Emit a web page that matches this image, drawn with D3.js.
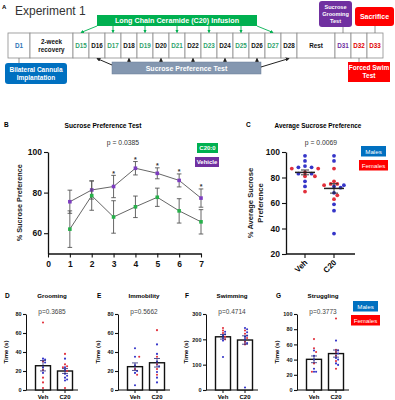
<!DOCTYPE html>
<html>
<head>
<meta charset="utf-8">
<script src="https://cdn.jsdelivr.net/npm/d3@7"></script>
<style>
body { margin: 0; background: #fff; }
svg { display: block; }
text { font-family: "Liberation Sans", Arial, sans-serif; }
</style>
</head>
<body>
<div id="fig"></div>
<script>
// ---- Panel A: timeline ----
const timelineLabels = ["D1", "2-week\nrecovery", "D15", "D16", "D17", "D18", "D19", "D20", "D21",
    "D22", "D23", "D24", "D25", "D26", "D27", "D28", "Rest", "D31", "D32", "D33"];
const infusionDays = ["D15", "D17", "D19", "D21", "D23", "D25", "D27"];
const sucroseDays = ["D16", "D18", "D20", "D22", "D24", "D26", "D28"];

// ---- Panel B: sucrose preference by day ----
const spTicks = [0, 1, 2, 3, 4, 5, 6, 7];
const spDays = [1, 2, 3, 4, 5, 6, 7];
const vehicleMean = [75.5, 81.3, 83, 92, 89.5, 86, 77.3];
const vehicleSem = [5.7, 4.5, 5.5, 3.3, 2.7, 3.2, 4.5];
const c20Mean = [62, 78.5, 68, 73, 77.7, 71, 65.6];
const c20Sem = [9, 7.2, 8, 5.3, 4.5, 6, 6];
const starDays = [3, 4, 5, 6, 7];

// ---- Panel C: average sucrose preference ----
const avgVehMales = [97, 93, 89, 88, 88, 83, 83, 77, 73];
const avgVehFemales = [87, 87, 84, 81, 81, 69];
const avgC20Males = [97, 93, 74, 73, 72, 68, 59, 54, 36];
const avgC20Females = [87, 77, 75, 75, 74, 66, 63];

// ---- Panels D-G: forced swim / grooming ----
const groomVehMales = [33, 32, 29, 24, 18];
const groomVehFemales = [71, 30, 21, 13, 8, 2];
const groomC20Males = [33, 24, 21, 17, 15, 13, 11, 10];
const groomC20Females = [38, 27, 25, 24, 20, 2];
const immobVehMales = [44, 35, 26, 20, 18, 5];
const immobVehFemales = [35, 22, 16];
const immobC20Males = [48, 38, 30, 25, 19, 13, 8];
const immobC20Females = [63, 35, 27, 22, 16];
const swimVehMales = [230, 220, 215, 205, 195, 130];
const swimVehFemales = [245, 235, 225, 210, 200];
const swimC20Males = [245, 240, 228, 215, 210, 200, 185, 10];
const swimC20Females = [235, 222, 205, 190, 180];
const struggleVehMales = [52, 45, 40, 28, 24, 24];
const struggleVehFemales = [67, 55, 50, 35, 24];
const struggleC20Males = [65, 52, 48, 42, 40, 35, 33];
const struggleC20Females = [94, 53, 50, 45, 38, 28];

const groups = ["Veh", "C20"];

const width = 395, height = 400;
const maleColor = "#3535c8", femaleColor = "#e2303c";

const svg = d3.select("#fig").append("svg")
    .attr("width", width)
    .attr("height", height)
    .attr("viewBox", [0, 0, width, height]);

// arrow markers
const defs = svg.append("defs");
function marker(id, color) {
    defs.append("marker")
        .attr("id", id)
        .attr("viewBox", "0 0 6 6")
        .attr("refX", 5).attr("refY", 3)
        .attr("markerWidth", 4).attr("markerHeight", 4)
        .attr("orient", "auto")
        .append("path").attr("d", "M0,0L6,3L0,6Z").attr("fill", color);
}
marker("arrG", "#00b050");
marker("arrK", "#222");

// ================= Panel A =================
const gA = svg.append("g");
gA.append("text").text("A").attr("x", 2).attr("y", 9)
    .attr("font-size", 6).attr("font-weight", 700);
gA.append("text").text("Experiment 1").attr("x", 15).attr("y", 15)
    .attr("font-family", "Lato").attr("font-size", 12).attr("fill", "#333");

const segWidth = l => l === "D1" ? 22 : l.startsWith("2-week") ? 43 : l === "Rest" ? 38 : 16;
let xCursor = 8;
const segs = timelineLabels.map(l => {
    const s = {label: l, x: xCursor, w: segWidth(l)};
    xCursor += s.w;
    return s;
});
const segMap = Object.fromEntries(segs.map(s => [s.label, s]));
const segCx = l => segMap[l].x + segMap[l].w / 2;
const labelColor = l => {
    if (l === "D1") return "#2e75b6";
    if (infusionDays.includes(l)) return "#2fa36b";
    if (l === "D31") return "#7030a0";
    if (l === "D32" || l === "D33") return "#e00000";
    return "#111";
};

const boxTop = 33, boxBot = 58;
const segG = gA.selectAll("g.seg").data(segs).join("g").attr("class", "seg");
segG.append("rect")
    .attr("x", d => d.x).attr("y", boxTop)
    .attr("width", d => d.w).attr("height", boxBot - boxTop)
    .attr("fill", "#fff").attr("stroke", "#8c8c8c").attr("stroke-width", 0.8);
segG.each(function (d) {
    const lines = d.label.split("\n");
    const t = d3.select(this).append("text")
        .attr("text-anchor", "middle")
        .attr("font-family", "Lato")
        .attr("font-weight", 700)
        .attr("font-size", 6.3)
        .attr("fill", labelColor(d.label));
    lines.forEach((ln, i) => {
        t.append("tspan")
            .attr("x", d.x + d.w / 2)
            .attr("y", (boxTop + boxBot) / 2 + 2.2 + (i - (lines.length - 1) / 2) * 8)
            .text(ln);
    });
});

// infusion banner
const banX0 = 97, banX1 = 257;
gA.append("rect").attr("x", banX0).attr("y", 15).attr("width", banX1 - banX0).attr("height", 11)
    .attr("fill", "#00b050");
gA.append("text").text("Long Chain Ceramide (C20) Infusion")
    .attr("x", (banX0 + banX1) / 2).attr("y", 23.2)
    .attr("text-anchor", "middle").attr("fill", "#fff")
    .attr("font-family", "Lato").attr("font-weight", 700).attr("font-size", 7.2);
infusionDays.forEach((d, i) => {
    let x1 = segCx(d);
    if (i === 0) x1 = banX0;
    if (i === infusionDays.length - 1) x1 = banX1;
    gA.append("line")
        .attr("x1", x1).attr("y1", 26).attr("x2", segCx(d)).attr("y2", boxTop - 0.5)
        .attr("stroke", "#00b050").attr("stroke-width", 0.9)
        .attr("marker-end", "url(#arrG)");
});

// sucrose test box
const sucX0 = 112, sucX1 = 261;
gA.append("rect").attr("x", sucX0).attr("y", 62).attr("width", sucX1 - sucX0).attr("height", 12)
    .attr("fill", "#8497b0").attr("stroke", "#6a7d96").attr("stroke-width", 0.5);
gA.append("text").text("Sucrose Preference Test")
    .attr("x", (sucX0 + sucX1) / 2).attr("y", 70.6)
    .attr("text-anchor", "middle").attr("fill", "#fff")
    .attr("font-family", "Lato").attr("font-weight", 700).attr("font-size", 7);
sucroseDays.forEach((d, i) => {
    let x1 = segCx(d), y1 = 62;
    if (i === 0) { x1 = sucX0; y1 = 65; }
    if (i === sucroseDays.length - 1) { x1 = sucX1; y1 = 67; }
    gA.append("line")
        .attr("x1", x1).attr("y1", y1).attr("x2", segCx(d)).attr("y2", boxBot + 0.5)
        .attr("stroke", "#222").attr("stroke-width", 1)
        .attr("marker-end", "url(#arrK)");
});

// side boxes
function labelBox(x, y, w, h, fill, lines, fs, rx, cx, anchorY, linkY) {
    gA.append("line").attr("x1", cx).attr("x2", cx).attr("y1", anchorY).attr("y2", linkY)
        .attr("stroke", "#777").attr("stroke-width", 0.8);
    gA.append("rect").attr("x", x).attr("y", y).attr("width", w).attr("height", h)
        .attr("rx", rx).attr("fill", fill);
    const t = gA.append("text").attr("text-anchor", "middle").attr("fill", "#fff")
        .attr("font-family", "Lato").attr("font-weight", 700).attr("font-size", fs);
    lines.forEach((ln, i) => {
        t.append("tspan").attr("x", x + w / 2)
            .attr("y", y + h / 2 + fs * 0.35 + (i - (lines.length - 1) / 2) * fs * 1.2)
            .text(ln);
    });
}
labelBox(5, 63, 62, 21, "#0070c0", ["Bilateral Cannula", "Implantation"], 6.5, 3, segCx("D1"), boxBot, 63);
labelBox(319, 1, 33, 26, "#7030a0", ["Sucrose", "Grooming", "Test"], 5.6, 3, segCx("D31"), 27, boxTop);
labelBox(355, 7, 39, 19, "#ff0000", ["Sacrifice"], 7, 3, segCx("D33"), 26, boxTop);
labelBox(348, 62, 42, 20, "#ff0000", ["Forced Swim", "Test"], 6.5, 0, segCx("D32"), boxBot, 62);

// ---------- helpers ----------
function styleAxis(g, fs) {
    g.select(".domain").attr("stroke", "#111").attr("stroke-width", 1.3);
    g.selectAll(".tick line").attr("stroke", "#111").attr("stroke-width", 1.1);
    g.selectAll(".tick text").attr("font-size", fs).attr("font-weight", 700)
        .attr("fill", "#111").attr("font-family", "Liberation Sans");
}

function errBar(g, x, yTop, yBot, cap, color, sw) {
    g.append("line").attr("x1", x).attr("x2", x).attr("y1", yTop).attr("y2", yBot)
        .attr("stroke", color).attr("stroke-width", sw);
    [yTop, yBot].forEach(yy => g.append("line")
        .attr("x1", x - cap).attr("x2", x + cap).attr("y1", yy).attr("y2", yy)
        .attr("stroke", color).attr("stroke-width", sw));
}

// simple beeswarm: returns [{x, y, color}]
function swarm(males, females, y, cx, r, step) {
    const pts = males.map(v => ({v, color: maleColor}))
        .concat(females.map(v => ({v, color: femaleColor})))
        .sort((a, b) => b.v - a.v);
    const placed = [];
    pts.forEach(p => {
        const py = y(p.v);
        for (let k = 0; k < 40; k++) {
            const off = k === 0 ? 0 : (k % 2 ? 1 : -1) * Math.ceil(k / 2) * step;
            const px = cx + off;
            if (placed.every(q => Math.hypot(q.x - px, q.y - py) >= 2 * r)) {
                placed.push({x: px, y: py, color: p.color});
                break;
            }
        }
    });
    return placed;
}

const sem = a => d3.deviation(a) / Math.sqrt(a.length);

// ================= Panel B =================
const gB = svg.append("g");
const xB = d3.scaleLinear().domain([0, 7]).range([48, 201]);
const yB = d3.scaleLinear().domain([50, 100]).range([253.5, 152]);

gB.append("text").text("B").attr("x", 4).attr("y", 127).attr("font-size", 6.5).attr("font-weight", 700);
gB.append("text").text("Sucrose Preference Test").attr("x", 103).attr("y", 127.5)
    .attr("text-anchor", "middle").attr("font-family", "Lato").attr("font-weight", 700).attr("font-size", 6.6);
gB.append("text").text("p = 0.0385").attr("x", 123).attr("y", 145)
    .attr("text-anchor", "middle").attr("font-family", "Lato").attr("font-size", 6.8).attr("fill", "#333");

gB.append("g").attr("transform", `translate(${xB(0)},0)`)
    .call(d3.axisLeft(yB).tickValues([60, 80, 100]).tickSize(4).tickSizeOuter(0).tickPadding(2))
    .call(g => styleAxis(g, 8.5));
gB.append("g").attr("transform", `translate(0,${yB(50)})`)
    .call(d3.axisBottom(xB).tickValues(spTicks).tickFormat(d3.format("d"))
        .tickSize(4).tickSizeOuter(0).tickPadding(3))
    .call(g => styleAxis(g, 8.5));
gB.append("text").text("% Sucrose Preference")
    .attr("transform", `translate(22,${(152 + 253.5) / 2}) rotate(-90)`)
    .attr("text-anchor", "middle").attr("font-size", 7.3).attr("font-weight", 700).attr("fill", "#222");

const lineB = d3.line().x((d, i) => xB(spDays[i])).y(d => yB(d));
[[vehicleMean, vehicleSem, "#7d3cc0"], [c20Mean, c20Sem, "#27b04a"]].forEach(([m, s, col]) => {
    m.forEach((v, i) => errBar(gB, xB(spDays[i]), yB(v + s[i]), yB(v - s[i]), 2.3, "#555", 0.9));
    gB.append("path").datum(m).attr("d", lineB).attr("fill", "none")
        .attr("stroke", "#555").attr("stroke-width", 0.9);
    gB.selectAll(null).data(m).join("rect")
        .attr("x", (d, i) => xB(spDays[i]) - 1.8).attr("y", d => yB(d) - 1.8)
        .attr("width", 3.6).attr("height", 3.6).attr("fill", col);
});
starDays.forEach(day => {
    const i = spDays.indexOf(day);
    gB.append("text").text("*").attr("x", xB(day)).attr("y", yB(vehicleMean[i] + vehicleSem[i]) + 0.5)
        .attr("text-anchor", "middle").attr("font-size", 7).attr("font-weight", 700).attr("fill", "#333");
});
// legend B
[["C20:0", "#00b050", 197, 143, 21], ["Vehicle", "#7030a0", 195, 157, 24]].forEach(([t, c, x, y, w]) => {
    gB.append("rect").attr("x", x).attr("y", y).attr("width", w).attr("height", 10).attr("fill", c);
    gB.append("text").text(t).attr("x", x + w / 2).attr("y", y + 7.3).attr("text-anchor", "middle")
        .attr("fill", "#fff").attr("font-family", "Lato").attr("font-weight", 700).attr("font-size", 6);
});

// ================= Panel C =================
const gC = svg.append("g");
const xC = d3.scalePoint().domain(groups).range([305, 334]);
const yC = d3.scaleLinear().domain([20, 100]).range([254, 152]);
gC.append("text").text("C").attr("x", 246).attr("y", 127).attr("font-size", 6.5).attr("font-weight", 700);
gC.append("text").text("Average  Sucrose Preference").attr("x", 318).attr("y", 127.5)
    .attr("text-anchor", "middle").attr("font-family", "Lato").attr("font-weight", 700).attr("font-size", 6.4);
gC.append("text").text("p = 0.0069").attr("x", 321).attr("y", 145)
    .attr("text-anchor", "middle").attr("font-family", "Lato").attr("font-size", 6.8).attr("fill", "#333");
gC.append("g").attr("transform", "translate(286,0)")
    .call(d3.axisLeft(yC).tickValues([20, 40, 60, 80, 100]).tickSize(4).tickSizeOuter(0).tickPadding(2))
    .call(g => styleAxis(g, 8.5));
const gCx = gC.append("g").attr("transform", `translate(0,${yC(20)})`);
gCx.append("line").attr("x1", 286).attr("x2", 355).attr("stroke", "#111").attr("stroke-width", 1.3);
groups.forEach(gname => {
    gCx.append("line").attr("x1", xC(gname)).attr("x2", xC(gname)).attr("y1", 0).attr("y2", 4)
        .attr("stroke", "#111").attr("stroke-width", 1.1);
    gCx.append("text").text(gname)
        .attr("transform", `translate(${xC(gname) + 3},${9}) rotate(-45)`)
        .attr("text-anchor", "end").attr("font-size", 8).attr("font-weight", 700);
});
const yLabC = gC.append("text").attr("text-anchor", "middle").attr("font-size", 7.6)
    .attr("font-weight", 700).attr("fill", "#222")
    .attr("transform", `translate(253,${(152 + 254) / 2}) rotate(-90)`);
yLabC.append("tspan").attr("x", 0).attr("y", 0).text("% Average Sucrose");
yLabC.append("tspan").attr("x", 0).attr("y", 9.5).text("Preference");

[[avgVehMales, avgVehFemales, "Veh"], [avgC20Males, avgC20Females, "C20"]].forEach(([m, f, gname]) => {
    const pts = swarm(m, f, yC, xC(gname), 1.9, 3.3);
    gC.selectAll(null).data(pts).join("circle")
        .attr("cx", d => d.x).attr("cy", d => d.y).attr("r", 1.9).attr("fill", d => d.color);
    const all = m.concat(f), mu = d3.mean(all), s = sem(all);
    gC.append("line").attr("x1", xC(gname) - 10).attr("x2", xC(gname) + 10)
        .attr("y1", yC(mu)).attr("y2", yC(mu)).attr("stroke", "#222").attr("stroke-width", 1.5);
    errBar(gC, xC(gname), yC(mu + s), yC(mu - s), 4, "#222", 0.9);
});
// legend (Males / Females)
function sexLegend(g, x, y) {
    [["Males", "#0070c0", 0, 25], ["Females", "#ff0000", 14, 29]].forEach(([t, c, dy, w]) => {
        const xx = x + (29 - w) / 2;
        g.append("rect").attr("x", xx).attr("y", y + dy).attr("width", w).attr("height", 10.5).attr("fill", c);
        g.append("text").text(t).attr("x", xx + w / 2).attr("y", y + dy + 7.5).attr("text-anchor", "middle")
            .attr("fill", "#fff").attr("font-family", "Lato").attr("font-size", 6.2);
    });
}
sexLegend(gC, 359, 146);

// ================= Panels D-G =================
function barPanel(letter, title, pText, ax, max, step, vehM, vehF, c20M, c20F) {
    const g = svg.append("g");
    const y = d3.scaleLinear().domain([0, max]).range([390, 314]);
    const xs = d3.scalePoint().domain(groups).range([ax + 17, ax + 39]);
    g.append("text").text(letter).attr("x", ax - 21).attr("y", 298).attr("font-size", 6.5).attr("font-weight", 700);
    g.append("text").text(title).attr("x", ax + 26).attr("y", 298)
        .attr("text-anchor", "middle").attr("font-family", "Lato").attr("font-weight", 700).attr("font-size", 6.2);
    g.append("text").text(pText).attr("x", ax + 26).attr("y", 314)
        .attr("text-anchor", "middle").attr("font-family", "Lato").attr("font-size", 6.5).attr("fill", "#444");
    g.append("g").attr("transform", `translate(${ax},0)`)
        .call(d3.axisLeft(y).tickValues(d3.range(0, max + 1, step)).tickSize(3).tickSizeOuter(0).tickPadding(1.5))
        .call(a => styleAxis(a, 5.5))
        .call(a => a.select(".domain").attr("stroke-width", 1));
    g.append("text").text("Time (s)")
        .attr("transform", `translate(${ax - 18},352) rotate(-90)`)
        .attr("text-anchor", "middle").attr("font-size", 6).attr("font-weight", 700);
    g.append("line").attr("x1", ax).attr("x2", ax + 52).attr("y1", 390).attr("y2", 390)
        .attr("stroke", "#111").attr("stroke-width", 1);
    [[vehM, vehF, "Veh"], [c20M, c20F, "C20"]].forEach(([m, f, gname]) => {
        const cx = xs(gname), all = m.concat(f), mu = d3.mean(all), s = sem(all);
        g.append("line").attr("x1", cx).attr("x2", cx).attr("y1", 390).attr("y2", 393)
            .attr("stroke", "#111").attr("stroke-width", 1);
        g.append("rect").attr("x", cx - 7.5).attr("y", y(mu)).attr("width", 15).attr("height", 390 - y(mu))
            .attr("fill", "#fff").attr("stroke", "#111").attr("stroke-width", 1.4);
        const pts = swarm(m, f, y, cx, 1.05, 2.1);
        g.selectAll(null).data(pts).join("circle")
            .attr("cx", d => d.x).attr("cy", d => d.y).attr("r", 1.05).attr("fill", d => d.color);
        errBar(g, cx, y(mu + s), y(mu - s), 3, "#2a2a7a", 0.8);
        g.append("text").text(gname).attr("x", cx).attr("y", 398.5).attr("text-anchor", "middle")
            .attr("font-size", 6).attr("font-weight", 700);
    });
}
barPanel("D", "Grooming", "p=0.3685", 26, 80, 20, groomVehMales, groomVehFemales, groomC20Males, groomC20Females);
barPanel("E", "Immobility", "p=0.5662", 118, 80, 20, immobVehMales, immobVehFemales, immobC20Males, immobC20Females);
barPanel("F", "Swimming", "p=0.4714", 206, 300, 100, swimVehMales, swimVehFemales, swimC20Males, swimC20Females);
barPanel("G", "Struggling", "p=0.3773", 297, 100, 20, struggleVehMales, struggleVehFemales, struggleC20Males, struggleC20Females);
sexLegend(svg.append("g"), 351, 301);
</script>
</body>
</html>
